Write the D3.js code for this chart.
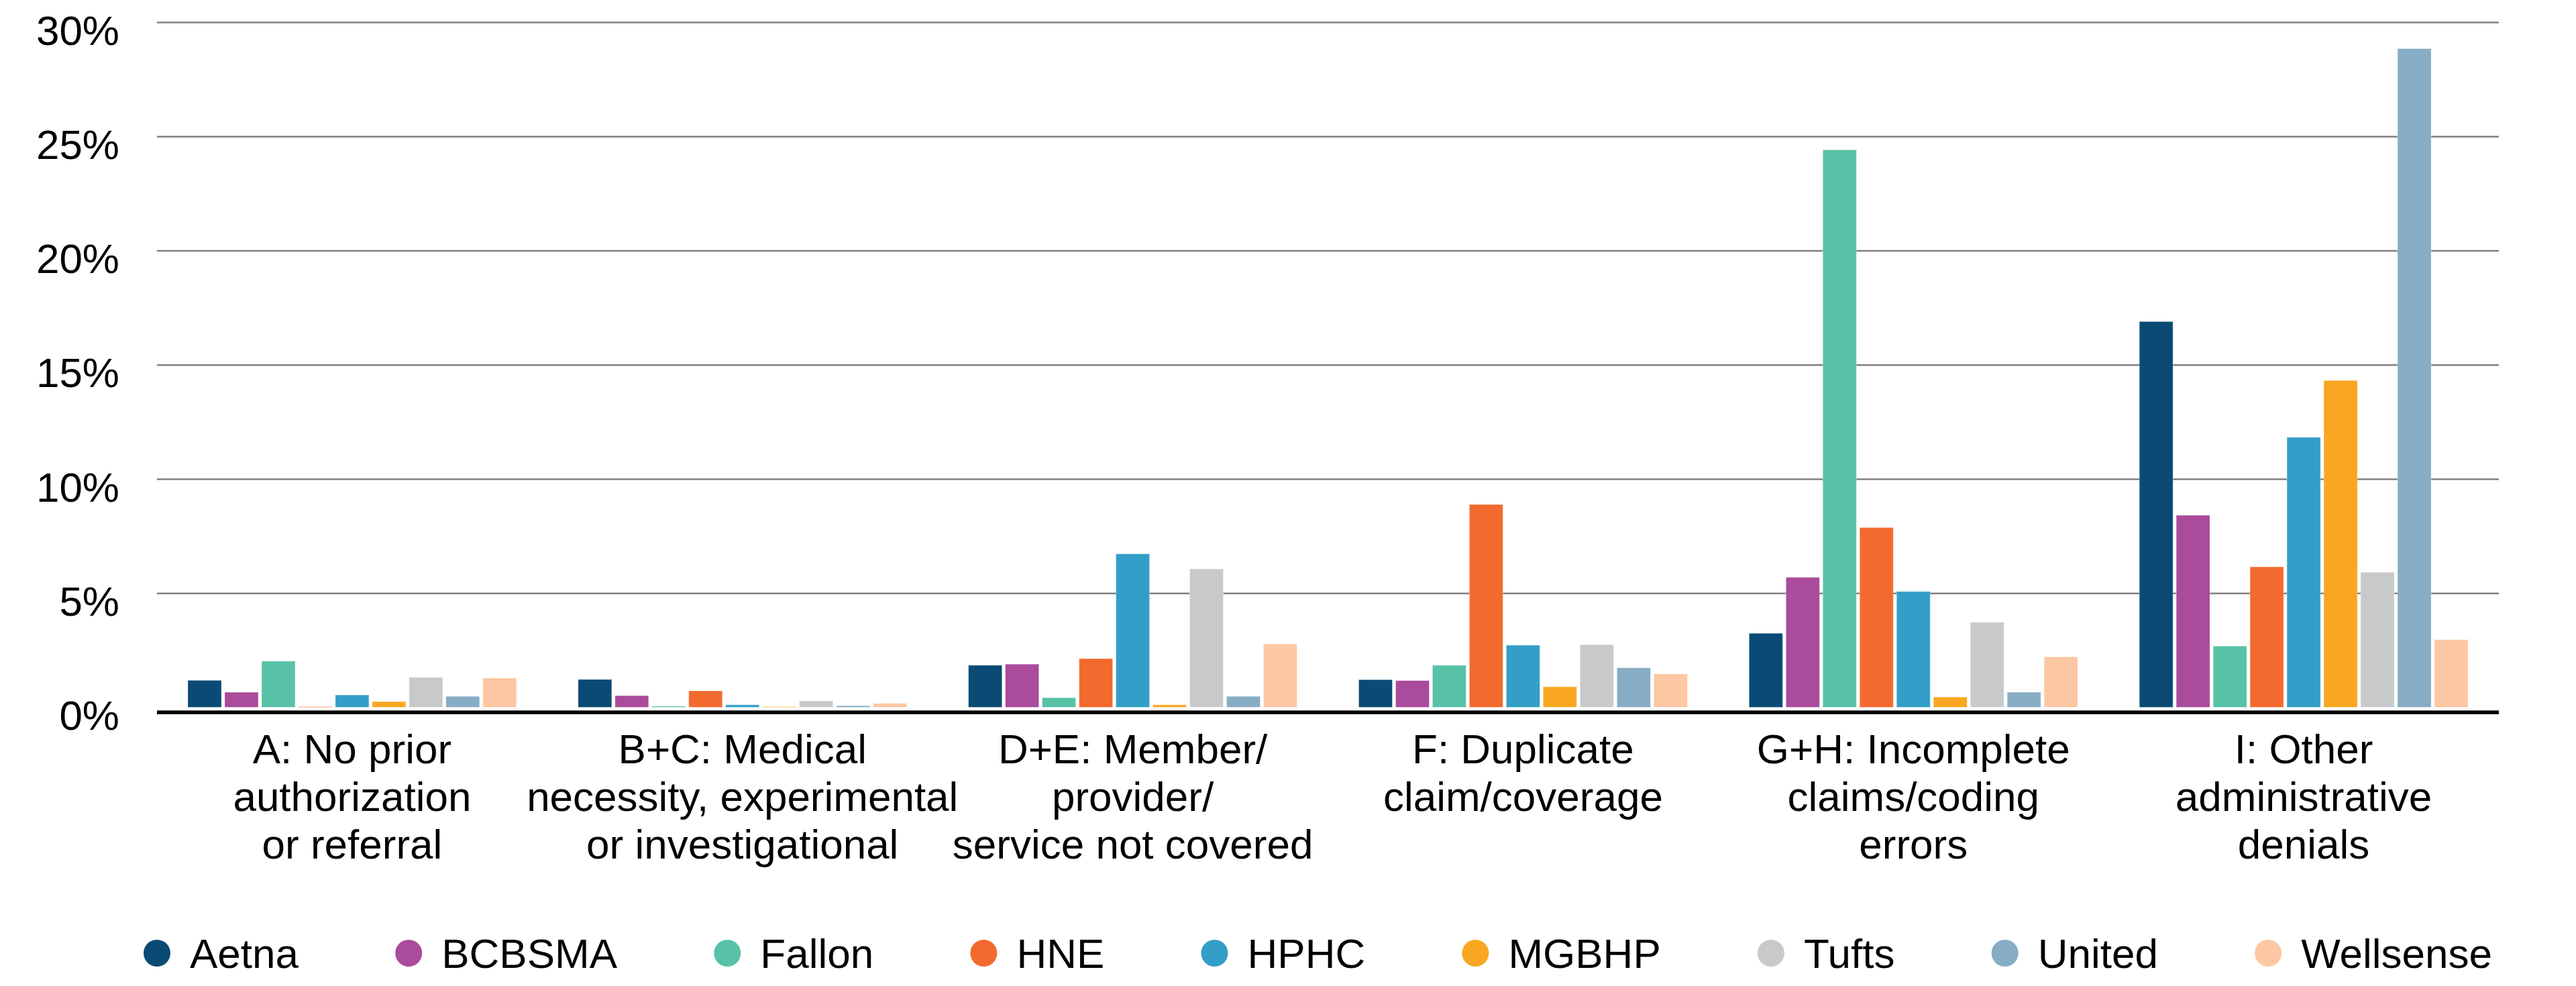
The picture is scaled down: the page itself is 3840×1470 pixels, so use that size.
<!DOCTYPE html>
<html>
<head>
<meta charset="utf-8">
<script src="https://cdn.jsdelivr.net/npm/d3@7"></script>
<style>
  html, body { margin: 0; padding: 0; background: #ffffff; }
  svg { display: block; }
  text { font-family: "Liberation Sans", Arial, sans-serif; fill: #000; }
</style>
</head>
<body>
<svg id="chart" width="3840" height="1470"></svg>
<script>
// ---- Data ----
const categories = ["A", "B+C", "D+E", "F", "G+H", "I"];
const categoryLabels = [
  ["A: No prior", "authorization", "or referral"],
  ["B+C: Medical", "necessity, experimental", "or investigational"],
  ["D+E: Member/", "provider/", "service not covered"],
  ["F: Duplicate", "claim/coverage"],
  ["G+H: Incomplete", "claims/coding", "errors"],
  ["I: Other", "administrative", "denials"]
];
const series = ["Aetna", "BCBSMA", "Fallon", "HNE", "HPHC", "MGBHP", "Tufts", "United", "Wellsense"];
const colors = ["#0a4a74", "#aa4b9b", "#58c2a7", "#f26a2e", "#339ec7", "#f9a722", "#c8c9ca", "#87adc4", "#fcc7a2"];

// values (%) per series, in category order A, B+C, D+E, F, G+H, I
const aetna     = [1.18, 1.22, 1.84, 1.21, 3.24, 16.89];
const bcbsma    = [0.66, 0.51, 1.89, 1.17, 5.69, 8.41];
const fallon    = [2.02, 0.05, 0.42, 1.84, 24.41, 2.68];
const hne       = [0.03, 0.72, 2.13, 8.88, 7.87, 6.15];
const hphc      = [0.54, 0.11, 6.72, 2.72, 5.07, 11.82];
const mgbhp     = [0.25, 0.03, 0.11, 0.90, 0.45, 14.31];
const tufts     = [1.31, 0.28, 6.06, 2.74, 3.72, 5.91];
const united    = [0.48, 0.07, 0.48, 1.73, 0.66, 28.84];
const wellsense = [1.28, 0.17, 2.77, 1.46, 2.21, 2.96];
const seriesValues = [aetna, bcbsma, fallon, hne, hphc, mgbhp, tufts, united, wellsense];

const yTicks = [0, 5, 10, 15, 20, 25, 30];

// ---- Layout ----
const svg = d3.select("#chart");
const plotLeft = 234, plotRight = 3725, plotTop = 33, plotBottom = 1054.5;
const fontSize = 62;

const x0 = d3.scaleBand().domain(categories).range([plotLeft, plotRight]).padding(0);
const groupPad = 46;
const x1 = d3.scaleBand().domain(series)
  .range([groupPad, x0.bandwidth() - groupPad]).paddingInner(0.09).paddingOuter(0);
const y = d3.scaleLinear().domain([0, 30]).range([plotBottom, plotTop]);
const color = d3.scaleOrdinal().domain(series).range(colors);

// Gridlines
const grid = svg.append("g").attr("transform", `translate(${plotLeft},0)`)
  .call(d3.axisLeft(y).tickValues(yTicks.filter(d => d > 0)).tickSize(-(plotRight - plotLeft)).tickFormat(""));
grid.select(".domain").remove();
grid.selectAll("line").attr("stroke", "#808085").attr("stroke-width", 2.5);

// Y labels
const yAxis = svg.append("g").attr("transform", `translate(${plotLeft},0)`)
  .call(d3.axisLeft(y).tickValues(yTicks).tickSize(0).tickPadding(56).tickFormat(d => d + "%"));
yAxis.select(".domain").remove();
yAxis.selectAll("text")
  .attr("font-family", "Liberation Sans, Arial, sans-serif")
  .attr("font-size", fontSize)
  .attr("fill", "#000")
  .attr("dy", "0")
  .attr("y", 33);

// Bars
const rows = [];
categories.forEach((c, ci) => {
  series.forEach((s, si) => rows.push({ cat: c, s: s, v: seriesValues[si][ci] }));
});
svg.append("g").selectAll("rect").data(rows).join("rect")
  .attr("x", d => x0(d.cat) + x1(d.s))
  .attr("y", d => y(d.v))
  .attr("width", x1.bandwidth())
  .attr("height", d => y(0) - y(d.v))
  .attr("fill", d => color(d.s))
  .attr("stroke", "#ffffff")
  .attr("stroke-opacity", 0.35)
  .attr("stroke-width", 1);

// X axis (black baseline + labels)
const axisY = 1062;
const xAxis = svg.append("g").attr("transform", `translate(0,${axisY})`)
  .call(d3.axisBottom(x0).tickSize(0).tickPadding(0).tickFormat(""));
xAxis.select(".domain").attr("stroke", "#000").attr("stroke-width", 5.5)
  .attr("d", `M${plotLeft},0H${plotRight}`);
xAxis.selectAll(".tick").each(function(d, i) {
  const t = d3.select(this).append("text")
    .attr("text-anchor", "middle")
    .attr("font-family", "Liberation Sans, Arial, sans-serif")
    .attr("font-size", fontSize)
    .attr("fill", "#000");
  categoryLabels[i].forEach((line, li) => {
    t.append("tspan").attr("x", 0).attr("y", 76 + li * 71).text(line);
  });
});

// Legend (justified between start and end)
const legStart = 214, legEnd = 3715, legY = 1443, r = 20, textGap = 49;
const leg = svg.append("g");
const items = series.map((s, i) => {
  const g = leg.append("g");
  g.append("circle").attr("cx", r).attr("cy", legY - 22).attr("r", r).attr("fill", colors[i]);
  const t = g.append("text").attr("x", r + textGap).attr("y", legY)
    .attr("font-size", fontSize).text(s);
  const w = r + textGap + t.node().getComputedTextLength();
  return { g, w };
});
const totalW = d3.sum(items, d => d.w);
const gap = (legEnd - legStart - totalW) / (items.length - 1);
let cx = legStart;
items.forEach(it => {
  it.g.attr("transform", `translate(${cx},0)`);
  cx += it.w + gap;
});
</script>
</body>
</html>
